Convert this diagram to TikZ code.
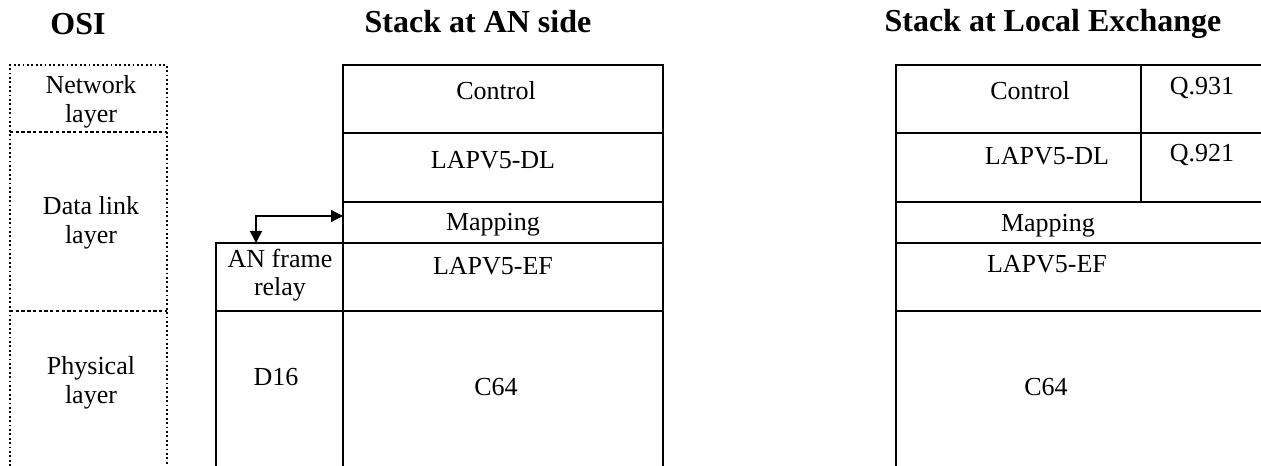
\documentclass[tikz,border=0pt]{standalone}
\usepackage{fontspec}
\setmainfont{Liberation Serif}
\usetikzlibrary{arrows.meta}

\begin{document}
\begin{tikzpicture}[x=0.75pt,y=-0.75pt,
    txt/.style={font=\fontsize{19.5}{21.5}\selectfont, inner sep=0pt, align=center},
    titre/.style={font=\bfseries\fontsize{24}{28}\selectfont, inner sep=0pt, anchor=base},
    osi/.style={line width=1.3pt, dash pattern=on 1.3pt off 2pt},
    osisep/.style={line width=1.3pt, dash pattern=on 2.5pt off 1.8pt},
    pile/.style={line width=1.8pt},
    fleche/.style={line width=1.2pt, {Triangle[length=9pt,width=9pt]}-{Triangle[length=9pt,width=9pt]}}]
      \useasboundingbox (0,0) rectangle (1261,466);

      % TITRES
      \node[titre] (tOSI) at (78,35) {OSI};
      \node[titre] (tAN) at (478,33) {Stack at AN side};
      \node[titre] (tLE) at (1053,32) {Stack at Local Exchange};

      % COLONNE OSI
      \draw[osi](10,466)--(10,65)--(167,65)--(167,466);
      \draw[osisep](10,132)--(167,132);
      \draw[osisep](10,311)--(167,311);
      \node[txt] (net) at (91,102) {Network\\layer};
      \node[txt] (dl) at (91,223) {Data link\\layer};
      \node[txt] (phy) at (91,383) {Physical\\layer};

      % PILE COTE AN
      \draw[pile](343,466)--(343,65)--(663,65)--(663,466);
      \draw[pile](343,133)--(663,133);
      \draw[pile](343,202)--(663,202);
      \draw[pile](216,466)--(216,243)--(663,243);
      \draw[pile](216,311)--(663,311);
      \node[txt, anchor=base] (ctrlA) at (496,100) {Control};
      \node[txt, anchor=base] (dlA) at (493,169) {LAPV5-DL};
      \node[txt, anchor=base] (mapA) at (493,231) {Mapping};
      \node[txt, anchor=base] (efA) at (493,275) {LAPV5-EF};
      \node[txt, anchor=base] (cA) at (496,396) {C64};
      \node[txt] (relay) at (280,275) {AN frame\\relay};
      \node[txt, anchor=base] (d16) at (276,386) {D16};

      % FLECHE
      \coordinate (relayTop) at (256,243);
      \coordinate (mapLeft) at (343,216);
      \draw[fleche](relayTop) |- (mapLeft);

      % PILE CENTRAL LOCAL
      \draw[pile](896,466)--(896,65)--(1261,65);
      \draw[pile](896,133)--(1261,133);
      \draw[pile](896,202)--(1261,202);
      \draw[pile](896,243)--(1261,243);
      \draw[pile](896,311)--(1261,311);
      \draw[pile](1141,65)--(1141,202);
      \node[txt, anchor=base] (ctrlL) at (1030,100) {Control};
      \node[txt, anchor=base] (q931) at (1202,95) {Q.931};
      \node[txt, anchor=base] (dlL) at (1047,165) {LAPV5-DL};
      \node[txt, anchor=base] (q921) at (1202,162) {Q.921};
      \node[txt, anchor=base] (mapL) at (1048,232) {Mapping};
      \node[txt, anchor=base] (efL) at (1047,273) {LAPV5-EF};
      \node[txt, anchor=base] (cL) at (1046,396) {C64};
\end{tikzpicture}
\end{document}
